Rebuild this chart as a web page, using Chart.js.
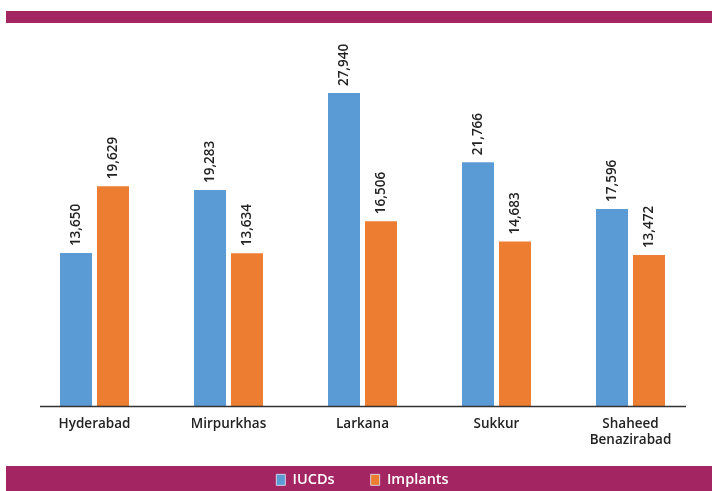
<!DOCTYPE html>
<html>
<head>
<meta charset="utf-8">
<script src="https://cdn.jsdelivr.net/npm/chart.js@4/dist/chart.umd.min.js"></script>
<style>
html,body{margin:0;padding:0;background:#fff;}
#wrap{position:relative;width:712px;height:491px;}
</style>
</head>
<body>
<div id="wrap"><canvas id="c" width="712" height="491"></canvas></div>
<script>
const categories = ['Hyderabad', 'Mirpurkhas', 'Larkana', 'Sukkur', ['Shaheed', 'Benazirabad']];
const seriesNames = ['IUCDs', 'Implants'];
const iucds = [13650, 19283, 27940, 21766, 17596];
const implants = [19629, 13634, 16506, 14683, 13472];

const MAGENTA = '#a32663';
const FONT = "'Open Sans', 'DejaVu Sans', sans-serif";

const bandsPlugin = {
  id: 'bands',
  beforeDraw(chart) {
    const ctx = chart.ctx;
    ctx.save();
    ctx.fillStyle = '#fff';
    ctx.fillRect(0, 0, chart.width, chart.height);
    ctx.fillStyle = MAGENTA;
    ctx.fillRect(6, 11, chart.width - 6, 12);
    ctx.fillRect(6, 466, chart.width - 6, chart.height - 466);
    ctx.restore();
  },
  afterDatasetsDraw(chart) {
    const ctx = chart.ctx;
    const a = chart.chartArea;
    ctx.save();
    ctx.strokeStyle = '#333';
    ctx.lineWidth = 1.3;
    ctx.beginPath();
    ctx.moveTo(a.left + 12.5, a.bottom + 0.5);
    ctx.lineTo(a.right - 11.5, a.bottom + 0.5);
    ctx.stroke();
    // data labels
    ctx.fillStyle = '#222';
    ctx.font = '600 13.5px ' + FONT;
    ctx.textAlign = 'left';
    ctx.textBaseline = 'middle';
    chart.data.datasets.forEach((ds, di) => {
      const meta = chart.getDatasetMeta(di);
      meta.data.forEach((bar, i) => {
        ctx.save();
        ctx.translate(bar.x, bar.y - 7);
        ctx.rotate(-Math.PI / 2);
        ctx.fillText(ds.data[i].toLocaleString('en-US'), 0, 0);
        ctx.restore();
      });
    });
    ctx.restore();
  },
  afterLayout(chart) {
    const lg = chart.legend;
    if (lg) {
      const pad = lg.options.labels.padding;
      lg.top = 472.6 - pad;
    }
  }
};

new Chart(document.getElementById('c'), {
  type: 'bar',
  data: {
    labels: categories,
    datasets: [
      { label: seriesNames[0], data: iucds, backgroundColor: '#5b9bd5', categoryPercentage: 0.552, barPercentage: 0.865 },
      { label: seriesNames[1], data: implants, backgroundColor: '#ed7d31', categoryPercentage: 0.552, barPercentage: 0.865 }
    ]
  },
  options: {
    responsive: false,
    animation: false,
    layout: { padding: { top: 70, left: 27.5, right: 14.5, bottom: 0 } },
    scales: {
      x: {
        grid: { display: false },
        border: { display: false },
        ticks: { color: '#222', font: { family: FONT, size: 13.5, weight: '600' }, padding: 2, maxRotation: 0, autoSkip: false },
        afterFit(scale) { scale.height = 65; }
      },
      y: { display: false, min: 0, max: 30000 }
    },
    plugins: {
      tooltip: { enabled: false },
      legend: {
        position: 'bottom',
        maxHeight: 20,
        labels: {
          color: '#fff',
          padding: 36,
          boxWidth: 9,
          boxHeight: 11,
          font: { family: FONT, size: 14.5, weight: '600' },
          generateLabels(chart) {
            return chart.data.datasets.map((ds, i) => ({
              text: ds.label,
              fillStyle: ds.backgroundColor,
              strokeStyle: 'rgba(220,220,235,0.9)',
              lineWidth: 1,
              fontColor: '#fff',
              datasetIndex: i,
              hidden: false
            }));
          }
        }
      }
    }
  },
  plugins: [bandsPlugin]
});
</script>
</body>
</html>
